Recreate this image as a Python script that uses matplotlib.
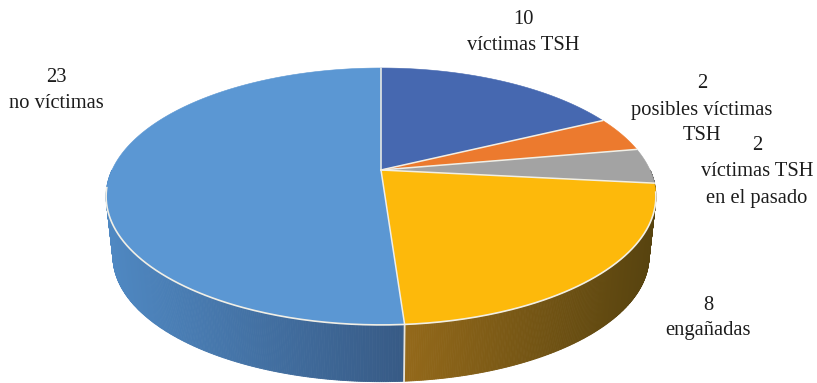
import numpy as np
import matplotlib
matplotlib.use("Agg")
import matplotlib.pyplot as plt
from matplotlib.patches import Polygon
from matplotlib.colors import to_rgb

# Slice sizes as drawn, clockwise from 12 o'clock
values = [8, 2, 2, 10, 23]
top_colors = ["#4668b0", "#ec7a2e", "#a3a3a3", "#fdb90b", "#5b97d3"]
side_left = ["#2f4670", "#8a4a1c", "#666666", "#94691a", "#4f88c2"]
side_right = ["#2f4670", "#8a4a1c", "#666666", "#57430f", "#375a85"]
labels = ["10\nvíctimas TSH", "2\nposibles víctimas\nTSH", "2\nvíctimas TSH\nen el pasado",
          "8\nengañadas", "23\nno víctimas"]
label_pos = [(523, 33), (702, 110), (757, 172), (708, 318), (56, 91)]

plt.rcParams["font.family"] = ["Liberation Serif", "DejaVu Serif"]
W, H = 817, 383
fig = plt.figure(figsize=(W / 100, H / 100), dpi=100)
ax = fig.add_axes([0, 0, 1, 1])
ax.set_xlim(0, W)
ax.set_ylim(H, 0)
ax.axis("off")

# Perspective projection of the pie disc
CX, CY, R, B, K = 381, 170, 269, 123, 0.206
DEPTH, SHRINK = 60, 0.975
EDGE = "#f1efe6"


def project(theta):
    x, y = np.sin(theta), np.cos(theta)
    w = 1 + K * y
    return CX + R * x / w, CY - B * y / w


angles = np.radians(np.concatenate([[0], np.cumsum(values)]) / sum(values) * 360)

# Side wall: only the part facing the viewer
ecy = 196
for i, v in enumerate(values):
    a0, a1 = angles[i], angles[i + 1]
    lo, hi = max(a0, np.radians(90)), min(a1, np.radians(270))
    if lo >= hi:
        continue
    th = np.linspace(lo, hi, 240)
    xs, ys = project(th)
    xb = CX + SHRINK * (xs - CX)
    yb = ecy + SHRINK * (ys - ecy) + DEPTH
    xmin, xmax = min(xs.min(), xb.min()), max(xs.max(), xb.max())
    c_left, c_right = np.array(to_rgb(side_left[i])), np.array(to_rgb(side_right[i]))
    for j in range(len(th) - 1):
        t = ((xs[j] + xs[j + 1]) / 2 - xmin) / (xmax - xmin)
        c = c_left + (c_right - c_left) * t
        ax.add_patch(Polygon([(xs[j], ys[j]), (xs[j + 1], ys[j + 1]),
                              (xb[j + 1], yb[j + 1]), (xb[j], yb[j])],
                             closed=True, fc=c, ec=c, lw=0.6, zorder=2))

# Vertical white seam between the two visible wall pieces
sx, sy = project(angles[4])
ax.plot([sx, CX + SHRINK * (sx - CX)], [sy, ecy + SHRINK * (sy - ecy) + DEPTH],
        color="#e8e4da", lw=1.3, zorder=3)

# Top face
for i, v in enumerate(values):
    th = np.linspace(angles[i], angles[i + 1], 200)
    xs, ys = project(th)
    pts = np.column_stack([np.r_[CX, xs], np.r_[CY, ys]])
    ax.add_patch(Polygon(pts, closed=True, fc=top_colors[i], ec=top_colors[i], lw=0.4, zorder=4))

# Light lines: radial edges and the front rim only
for a in angles[:-1]:
    ex, ey = project(a)
    ax.plot([CX, ex], [CY, ey], color=EDGE, lw=1.1, zorder=5, solid_capstyle="round")
th_front = np.linspace(np.radians(100), np.radians(262), 300)
fx, fy = project(th_front)
ax.plot(fx, fy, color=EDGE, lw=1.2, zorder=5)

for txt, (x, y) in zip(labels, label_pos):
    ax.text(x, y, txt, ha="center", va="center", fontsize=14.8, color="#1c1c1c",
            linespacing=1.5, zorder=6)

fig.savefig("out.png", dpi=100)
